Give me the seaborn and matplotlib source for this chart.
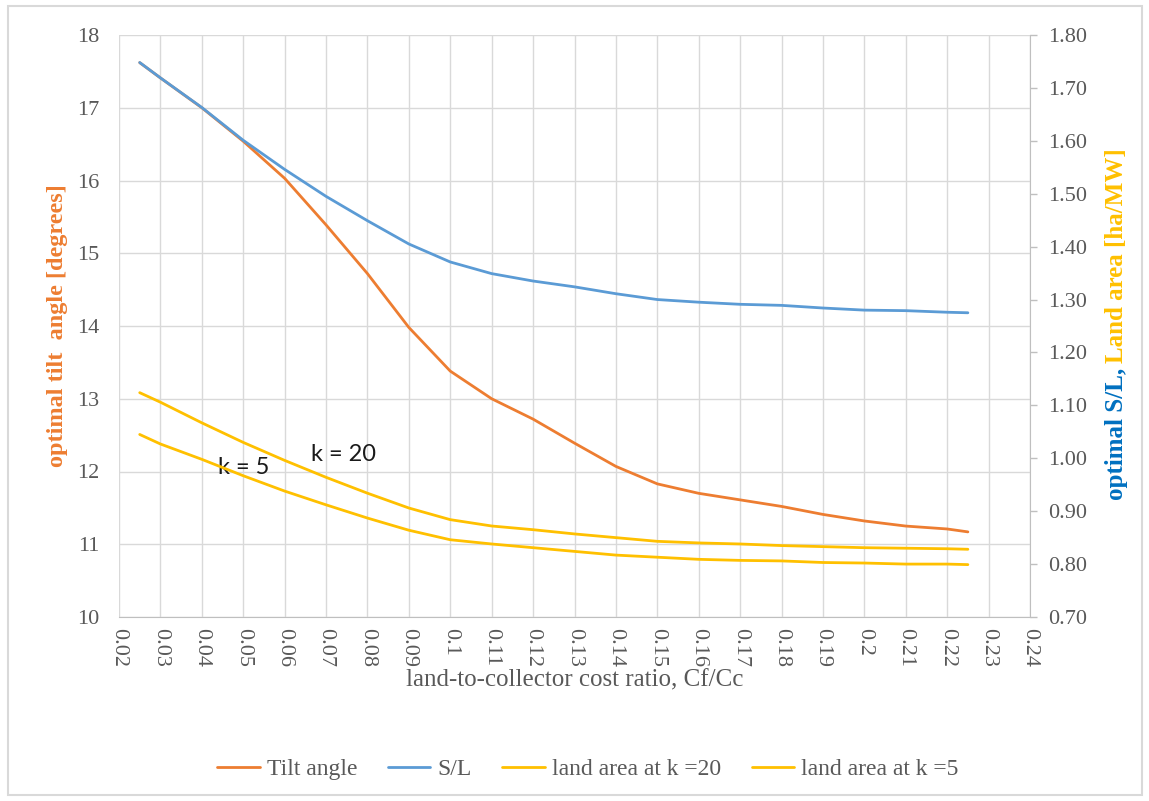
import numpy as np
import pandas as pd
import matplotlib
matplotlib.use('Agg')
import matplotlib.pyplot as plt
import matplotlib.patches as patches
import seaborn as sns

# --- data ---
cost_ratio = [0.025, 0.03, 0.04, 0.05, 0.06, 0.07, 0.08, 0.09, 0.10, 0.11, 0.12,
              0.13, 0.14, 0.15, 0.16, 0.17, 0.18, 0.19, 0.20, 0.21, 0.22, 0.225]

# optimal tilt angle [degrees] (left axis)
tilt_angle = [17.62, 17.41, 17.00, 16.54, 16.03, 15.39, 14.72, 13.98, 13.38, 13.00, 12.72,
              12.39, 12.07, 11.83, 11.70, 11.61, 11.52, 11.41, 11.32, 11.25, 11.21, 11.17]

# optimal S/L (right axis)
s_over_l = [1.748, 1.719, 1.663, 1.601, 1.546, 1.495, 1.449, 1.405, 1.371, 1.349, 1.335,
            1.324, 1.311, 1.300, 1.295, 1.291, 1.289, 1.284, 1.280, 1.279, 1.276, 1.275]

# land area [ha/MW] (right axis)
land_k20 = [1.124, 1.106, 1.067, 1.030, 0.996, 0.964, 0.934, 0.906, 0.884, 0.872, 0.865,
            0.857, 0.850, 0.843, 0.840, 0.838, 0.835, 0.833, 0.831, 0.830, 0.829, 0.828]
land_k5 = [1.045, 1.027, 0.998, 0.967, 0.938, 0.912, 0.887, 0.864, 0.846, 0.838, 0.831,
           0.824, 0.817, 0.813, 0.809, 0.807, 0.806, 0.803, 0.802, 0.800, 0.800, 0.799]

x_ticks = [round(0.02 + 0.01 * i, 2) for i in range(23)]
left_ticks = list(range(10, 19))
right_ticks = [round(0.7 + 0.1 * i, 2) for i in range(12)]

ORANGE = '#ED7D31'
BLUE = '#5B9BD5'
GOLD = '#FFC000'
GREY = '#595959'
GRID = '#D9D9D9'

sns.set_style('white')
plt.rcParams['font.family'] = ['Liberation Serif', 'DejaVu Serif']

fig = plt.figure(figsize=(11.49, 8.01), dpi=100)
ax = fig.add_axes([119 / 1149, 1 - 617 / 801, (1030 - 119) / 1149, (617 - 35) / 801])
ax2 = ax.twinx()

sns.lineplot(x=cost_ratio, y=tilt_angle, ax=ax, color=ORANGE, linewidth=2, legend=False)
sns.lineplot(x=cost_ratio, y=s_over_l, ax=ax2, color=BLUE, linewidth=2, legend=False)
sns.lineplot(x=cost_ratio, y=land_k20, ax=ax2, color=GOLD, linewidth=2, legend=False)
sns.lineplot(x=cost_ratio, y=land_k5, ax=ax2, color=GOLD, linewidth=2, legend=False)

ax.set_xlim(0.02, 0.24)
ax.set_ylim(10, 18)
ax2.set_ylim(0.7, 1.8)

ax.set_xticks(x_ticks)
ax.set_xticklabels([f'{v:g}' for v in x_ticks], rotation=-90, fontsize=16, color=GREY)
ax.set_yticks(left_ticks)
ax.set_yticklabels([str(v) for v in left_ticks], fontsize=16, color=GREY)
ax2.set_yticks(right_ticks)
ax2.set_yticklabels([f'{v:.2f}' for v in right_ticks], fontsize=16, color=GREY)

ax.tick_params(axis='x', length=0, pad=8)
ax.tick_params(axis='y', length=0, pad=14)
ax2.tick_params(axis='y', length=5, width=1, color='#BFBFBF', direction='out', pad=8)

ax.grid(True, color=GRID, linewidth=1)
ax.set_axisbelow(True)
for side in ['top', 'left', 'right']:
    ax.spines[side].set_visible(False)
ax.spines['bottom'].set_color('#BFBFBF')
for side in ['top', 'left', 'bottom']:
    ax2.spines[side].set_visible(False)
ax2.spines['right'].set_color('#BFBFBF')

ax.set_xlabel('')
ax.set_ylabel('')
ax2.set_ylabel('')

# annotations inside the plot
ax.text(0.050, 12.05, 'k = 5', fontsize=17, family=['Lato', 'DejaVu Sans'],
        ha='center', va='center', color='#1a1a1a')
ax.text(0.0742, 12.23, 'k = 20', fontsize=17, family=['Lato', 'DejaVu Sans'],
        ha='center', va='center', color='#1a1a1a')

# axis titles
fig.text(58 / 1149, 1 - 326 / 801, 'optimal tilt  angle [degrees]', rotation=90,
         ha='center', va='center', color=ORANGE, fontsize=17.5, fontweight='bold')
fig.text(0.5 * (119 + 1030) / 1149, 1 - 680 / 801, 'land-to-collector cost ratio, Cf/Cc',
         ha='center', va='center', color=GREY, fontsize=18)

# two-colour right axis title
t1 = fig.text(1117 / 1149, 1 - 500 / 801, 'optimal S/L,', rotation=90, rotation_mode='anchor',
              ha='left', va='center', color='#0070C0', fontsize=18, fontweight='bold')
renderer = fig.canvas.get_renderer()
bb = t1.get_window_extent(renderer)
t2 = fig.text(1117 / 1149, (bb.y1 + 5) / fig.bbox.height, 'Land area [ha/MW]', rotation=90,
              rotation_mode='anchor', ha='left', va='center', color=GOLD, fontsize=18,
              fontweight='bold')

# legend below
handles = [ax.get_lines()[0]] + list(ax2.get_lines())
labels = ['Tilt angle', 'S/L', 'land area at k =20', 'land area at k =5']
fig.legend(handles, labels, loc='center', bbox_to_anchor=(588 / 1149, 1 - 769 / 801), ncol=4,
           frameon=False, fontsize=17, labelcolor=GREY, handlelength=1.8, columnspacing=1.3,
           handletextpad=0.3)

# chart area border
fig.patches.append(patches.Rectangle((8 / 1149, 1 - 795 / 801), (1142 - 8) / 1149, (795 - 6) / 801,
                                     transform=fig.transFigure, fill=False, edgecolor=GRID,
                                     linewidth=1.5))

fig.savefig('out.png', dpi=100)
